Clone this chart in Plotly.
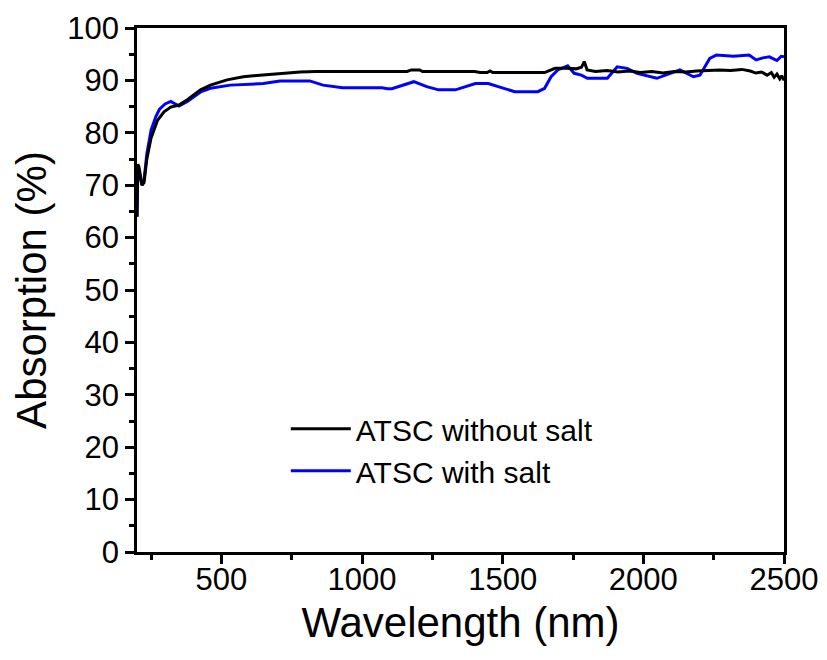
import plotly.graph_objects as go

# ATSC without salt
wl_black = [200, 203, 207, 212, 218, 225, 235, 250, 273, 296, 320, 349, 379, 426, 461,
            520, 578, 637, 708, 780, 837, 1025, 1160, 1175, 1205, 1215, 1400, 1420,
            1445, 1455, 1465, 1649, 1686, 1730, 1760, 1780, 1790, 1800, 1830, 1870,
            1910, 1950, 1990, 2030, 2070, 2110, 2150, 2190, 2230, 2270, 2310, 2350,
            2380, 2400, 2420, 2440, 2455, 2465, 2475, 2485, 2492, 2500]
abs_black = [64, 74, 73.5, 72, 70, 70.5, 75, 79, 82.4, 84, 84.9, 85.3, 86.3, 88.2, 89.1,
             90.1, 90.7, 91.0, 91.35, 91.6, 91.7, 91.7, 91.7, 92.0, 92.0, 91.7, 91.7, 91.5,
             91.5, 91.8, 91.5, 91.5, 92.3, 92.3, 92.2, 92.5, 93.6, 92.0, 91.7, 91.9,
             91.6, 91.8, 91.5, 91.7, 91.4, 91.7, 91.6, 91.8, 91.9, 92.0, 91.9, 92.1,
             91.8, 91.4, 91.6, 91.0, 91.5, 90.6, 91.2, 90.3, 90.9, 90.0]

# ATSC with salt
wl_blue = [200, 203, 207, 212, 218, 225, 235, 250, 267, 280, 300, 320, 335, 349, 379,
           426, 461, 532, 649, 708, 814, 861, 931, 1071, 1090, 1106, 1184, 1230, 1272,
           1332, 1403, 1449, 1484, 1543, 1625, 1649, 1672, 1696, 1731, 1754, 1780,
           1801, 1872, 1907, 1942, 1978, 2048, 2096, 2130, 2178, 2201, 2236, 2260,
           2320, 2376, 2401, 2425, 2448, 2475, 2490, 2500]
abs_blue = [64, 73, 72.5, 71.5, 70, 71, 76, 80.5, 83.1, 84.5, 85.5, 86, 85.5, 85.1, 86,
            87.8, 88.5, 89.1, 89.4, 89.9, 89.9, 89.1, 88.6, 88.6, 88.4, 88.4, 89.75, 88.8,
            88.2, 88.2, 89.4, 89.4, 88.8, 87.85, 87.85, 88.5, 90.7, 92, 92.8, 91.35, 91.0,
            90.4, 90.4, 92.6, 92.3, 91.35, 90.4, 91.35, 92, 90.7, 91, 94.2, 94.85,
            94.6, 94.85, 93.9, 94.3, 94.5, 93.8, 94.6, 94.5]

FONT = "Liberation Sans, Arial, sans-serif"

fig = go.Figure()
fig.add_trace(go.Scatter(x=wl_blue, y=abs_blue, mode="lines", name="ATSC with salt",
                         line=dict(color="#0000ff", width=3), showlegend=False))
fig.add_trace(go.Scatter(x=wl_black, y=abs_black, mode="lines", name="ATSC without salt",
                         line=dict(color="#000000", width=3)))
# legend entry for blue (ordered after black)
fig.add_trace(go.Scatter(x=[None], y=[None], mode="lines", name="ATSC with salt",
                         line=dict(color="#0000ff", width=3)))

axis_common = dict(showline=True, linecolor="black", linewidth=2.5, mirror=True,
                   ticks="outside", ticklen=9, tickwidth=2.5, tickcolor="black",
                   showgrid=False, zeroline=False,
                   tickfont=dict(family=FONT, size=31, color="black"))

fig.update_xaxes(range=[200, 2500], tick0=0, dtick=500, ticklabelstandoff=-11,
                 automargin=True,
                 title=dict(text="Wavelength (nm)", font=dict(family=FONT, size=42, color="black"),
                            standoff=12),
                 minor=dict(ticks="outside", ticklen=5, tickwidth=2.5, tickcolor="black", dtick=250, tick0=0),
                 **axis_common)
fig.update_yaxes(range=[0, 100], tick0=0, dtick=10,
                 title=dict(text="Absorption (%)", font=dict(family=FONT, size=42, color="black"),
                            standoff=8),
                 minor=dict(ticks="outside", ticklen=5, tickwidth=2.5, tickcolor="black", dtick=5, tick0=0),
                 **axis_common)

fig.update_layout(
    width=827, height=660,
    margin=dict(l=137, r=43, t=28, b=108, autoexpand=False),
    plot_bgcolor="white", paper_bgcolor="white",
    showlegend=True,
    legend=dict(x=0.23, y=0.195, xanchor="left", yanchor="middle",
                bgcolor="rgba(0,0,0,0)", font=dict(family=FONT, size=30, color="black"),
                tracegroupgap=0, itemwidth=60),
)

fig.write_html("out.html", config={"displayModeBar": False},
               post_script="document.body.style.margin='0';document.body.style.padding='0';")
